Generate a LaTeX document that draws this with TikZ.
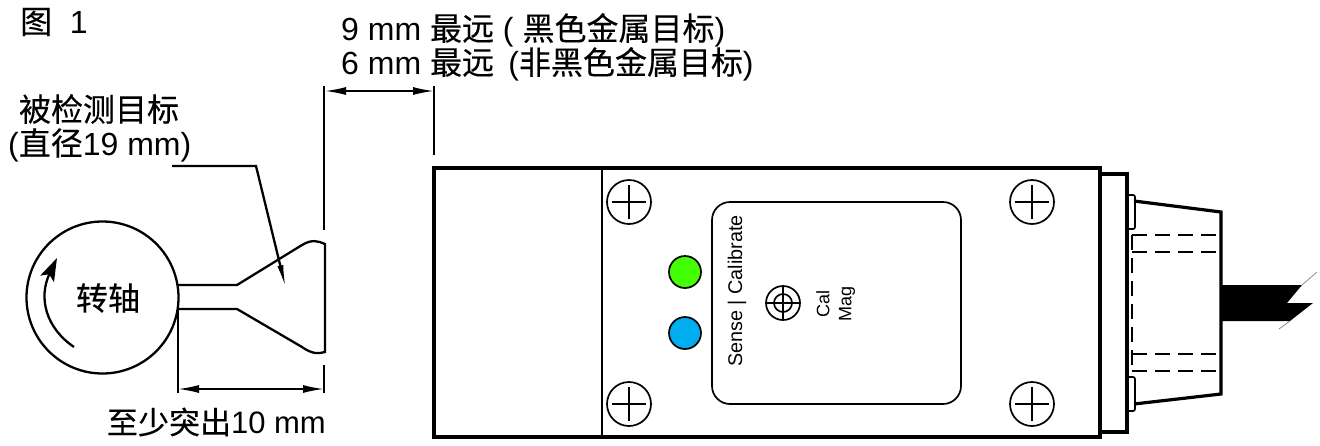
\documentclass[tikz,border=0pt]{standalone}
\usepackage{fontspec}
\setmainfont{Liberation Sans}
\newfontfamily\cjk[FakeBold=0.25]{Noto Sans CJK SC}
\usetikzlibrary{arrows.meta}
\tikzset{
	thing/.style={line width=2.3pt},
	heavy/.style={line width=3.2pt},
	fine/.style={line width=1.7pt},
	dim/.style={line width=1.7pt, {Latex[length=21pt,width=8pt]}-{Latex[length=21pt,width=8pt]}},
	hidden/.style={line width=1.2pt, dash pattern=on 15pt off 8pt},
	label/.style={font=\fontsize{32}{34}\selectfont, inner sep=0pt},
	small/.style={font=\fontsize{19.8}{22}\selectfont, inner sep=0pt, rotate=90},
	screw/.style={circle, draw, line width=1.7pt, minimum size=44pt, inner sep=0pt},
	led/.style={circle, draw, line width=1.7pt, minimum size=32pt, inner sep=0pt}
}

\begin{document}
\begin{tikzpicture}[x=1pt,y=-1pt]
\useasboundingbox (0,0) rectangle (1320,445);

\path (20,22) node[label,anchor=west] (fig) {{\cjk 图}\ \ 1}
		(341,30) node[label,anchor=west] (far1) {9 mm {\cjk 最远} ( {\cjk 黑色金属目标})}
		(341,64) node[label,anchor=west] (far2) {6 mm {\cjk 最远}\ \,({\cjk 非黑色金属目标})}
		(99,109) node[label] (target) {\cjk 被检测目标}
		(8,145) node[label,anchor=west] (diam) {({\cjk 直径}19 mm)}
		(326,422) node[label,anchor=east,font=\fontsize{31}{34}\selectfont] (least) {{\cjk 至少突出}10 mm}
		(102.5,297.5) node[circle,draw,thing,minimum size=152pt,inner sep=0pt] (shaft) {}
		(108,298) node[label] (shafttxt) {\cjk 转轴}
		(737,291) node[small] (sense) {Sense | Calibrate}
		(823,304) node[small,font=\fontsize{18}{20}\selectfont] (cal) {Cal}
		(847,304) node[small,font=\fontsize{18}{20}\selectfont] (mag) {Mag}
		(685,272) node[led,fill={rgb,255:red,68;green,255;blue,0}] (green) {}
		(685,333) node[led,fill={rgb,255:red,0;green,174;blue,239}] (blue) {}
		(783,303) node[circle,draw,fine,minimum size=34pt,inner sep=0pt] (aim) {}
		(783,303) node[circle,draw,fine,minimum size=18pt,inner sep=0pt] (aimin) {}
		(629,202) node[screw] (s1) {}
		(1032,202) node[screw] (s2) {}
		(629,404) node[screw] (s3) {}
		(1032,404) node[screw] (s4) {}
;

\path (178,285) coordinate (a1)
		(237,285) coordinate (a2)
		(302,245) coordinate (a3)
		(325,244) coordinate (a4)
		(325,352) coordinate (a5)
		(302,347) coordinate (a6)
		(237,309) coordinate (a7)
		(178,309) coordinate (a8)
		(74,347) coordinate (turn0)
		(57,258) coordinate (turn1)
		(172,166) coordinate (lead0)
		(256,166) coordinate (lead1)
		(286,289) coordinate (lead2)
		(324,86) coordinate (up0)
		(324,230) coordinate (up1)
		(434,86) coordinate (up2)
		(434,155) coordinate (up3)
		(325,91) coordinate (gap0)
		(434,91) coordinate (gap1)
		(178,310) coordinate (lo0)
		(178,393) coordinate (lo1)
		(324,365) coordinate (lo2)
		(324,393) coordinate (lo3)
		(178,389) coordinate (len0)
		(324,389) coordinate (len1)
		(434,168) coordinate (b1)
		(1100,437) coordinate (b2)
		(602,168) coordinate (d1)
		(602,437) coordinate (d2)
		(1100,174) coordinate (c1)
		(1127,432) coordinate (c2)
		(1127,195) coordinate (e1)
		(1135,229) coordinate (e2)
		(1127,377) coordinate (e3)
		(1135,411) coordinate (e4)
		(1134,201) coordinate (k1)
		(1221,212) coordinate (k2)
		(1221,394) coordinate (k3)
		(1134,404) coordinate (k4)
		(712,202) coordinate (p1)
		(961,404) coordinate (p2)
		(1132,235) coordinate (h1)
		(1220,235) coordinate (h2)
		(1132,252) coordinate (h3)
		(1220,252) coordinate (h4)
		(1132,354) coordinate (h5)
		(1220,354) coordinate (h6)
		(1132,371) coordinate (h7)
		(1220,371) coordinate (h8)
		(1221,285) coordinate (w1)
		(1302,285) coordinate (w2)
		(1287,303) coordinate (w3)
		(1313,303) coordinate (w4)
		(1290,321) coordinate (w5)
		(1221,321) coordinate (w6)
		(1317,272) coordinate (w7)
		(1279,329) coordinate (w8)
;

% target on the shaft
\draw[thing] (a1) -- (a2) -- (a3) .. controls (312,239) and (318,241) .. (a4) -- (a5)
		.. controls (318,354) and (312,354) .. (a6) -- (a7) -- (a8);
\draw[thing,-{Stealth[length=23pt,width=15pt,inset=5pt]}] (turn0) .. controls (46,328) and (38,298) .. (turn1);
\draw[thing,-{Latex[length=24pt,width=6pt]}] (lead0) -- (lead1) -- (lead2);

% dimensions
\draw[thing] (up0) -- (up1);
\draw[thing] (up2) -- (up3);
\draw[dim] (gap0) -- (gap1);
\draw[thing] (lo0) -- (lo1);
\draw[thing] (lo2) -- (lo3);
\draw[dim] (len0) -- (len1);

% housing
\draw[heavy] (b1) rectangle (b2);
\draw[thing] (d1) -- (d2);
\draw[heavy] (c1) rectangle (c2);
\draw[fine,rounded corners=2pt] (e1) rectangle (e2);
\draw[fine,rounded corners=2pt] (e3) rectangle (e4);
\draw[heavy] (k1) -- (k2) -- (k3) -- (k4);
\draw[fine,rounded corners=18pt] (p1) rectangle (p2);

% screws and the adjuster
\foreach \s in {s1,s2,s3,s4} {
	\draw[fine] ([xshift=-17pt]\s.center) -- ([xshift=17pt]\s.center);
	\draw[fine] ([yshift=-17pt]\s.center) -- ([yshift=17pt]\s.center);
}
\draw[fine] (aim.west) -- (aim.east);
\draw[fine] (aim.north) -- (aim.south);

% connector
\draw[hidden] (h1) -- (h2);
\draw[hidden] (h3) -- (h4);
\draw[hidden] (h5) -- (h6);
\draw[hidden] (h7) -- (h8);
\draw[hidden] (h1) -- (h7);
\fill (w1) -- (w2) -- (w3) -- (w4) -- (w5) -- (w6) -- cycle;
\draw[gray,line width=.7pt] (w2) -- (w7);
\draw[gray,line width=.7pt] (w5) -- (w8);

\end{tikzpicture}
\end{document}
